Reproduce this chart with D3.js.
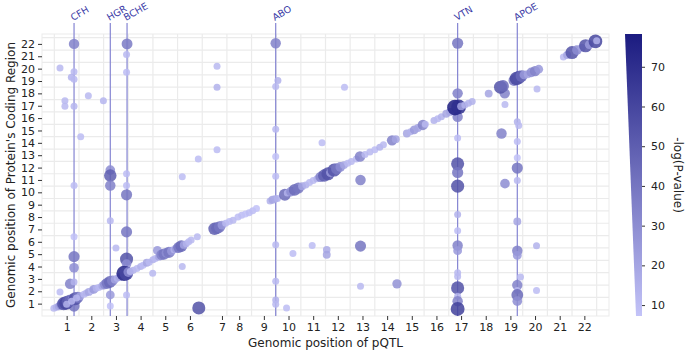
<!DOCTYPE html>
<html>
<head>
<meta charset="utf-8">
<script src="https://cdn.jsdelivr.net/npm/d3@7"></script>
<style>
  body { margin: 0; background: #fff; }
  text { font-family: "DejaVu Sans", sans-serif; }
</style>
</head>
<body>
<div class="chart"></div>
<script>
const width = 685;
const height = 356;

// chromosome tick labels (x axis has "7" drawn slightly right in the source)
const chromLabels = d3.range(1, 23);
const xTickPos = [1, 2, 3, 4, 5, 6, 7.3, 8, 9, 10, 11, 12, 13, 14, 15, 16, 17, 18, 19, 20, 21, 22];
const colorTicks = [10, 20, 30, 40, 50, 60, 70];

// hotspot genes and their pQTL position
const hotspotGenes = ['CFH', 'HGR', 'BCHE', 'ABO', 'VTN', 'APOE'];
const hotspotPos = [1.30, 2.77, 3.45, 9.48, 16.86, 19.28];

// [pQTL position, protein position, -log(P)]
const transPoints = [
  [1.30, 22.0, 35], [1.30, 19.75, 12], [1.19, 19.3, 14], [1.30, 19.15, 12], [0.73, 20.05, 12],
  [1.88, 17.8, 12], [0.93, 17.4, 12], [0.93, 16.95, 12], [1.30, 16.95, 13], [2.49, 17.4, 13],
  [1.57, 14.5, 10], [1.30, 10.55, 10], [1.30, 6.4, 8], [1.30, 4.8, 40], [1.30, 3.9, 30],
  [1.14, 2.6, 35], [1.30, 2.75, 15], [0.73, 1.95, 10], [1.30, 0.8, 40],
  [2.77, 11.8, 30], [2.77, 11.35, 50], [2.77, 10.55, 35], [2.77, 7.7, 12], [2.77, 1.7, 25], [2.77, 0.8, 8],
  [3.45, 22.0, 38], [3.43, 21.15, 12], [3.43, 19.7, 10], [3.43, 11.5, 10], [3.43, 10.55, 10],
  [3.43, 9.8, 40], [3.43, 6.8, 40], [3.43, 4.6, 55], [3.43, 4.2, 30], [3.43, 1.7, 10],
  [3.0, 5.5, 12], [4.49, 3.45, 12], [4.68, 5.3, 25], [5.69, 4.0, 12], [6.36, 0.65, 55],
  [7.1, 20.2, 12], [7.1, 18.5, 15], [7.1, 13.45, 10], [6.34, 12.7, 10], [5.69, 11.25, 10],
  [9.48, 22.05, 35], [9.57, 19.05, 15], [9.48, 18.55, 12], [9.48, 15.1, 12], [9.48, 12.9, 8],
  [9.48, 11.3, 10], [9.48, 5.77, 12], [9.48, 2.8, 12], [9.48, 1.3, 15], [9.48, 0.95, 12],
  [12.27, 18.5, 10], [11.36, 14.0, 10], [12.92, 11.0, 35], [10.18, 5.05, 10], [10.96, 5.7, 10],
  [11.55, 5.35, 18], [11.55, 4.95, 20], [12.92, 5.65, 40], [12.92, 2.4, 12], [14.4, 2.6, 28], [9.92, 0.65, 10],
  [16.86, 22.05, 40], [16.86, 18.0, 35], [16.86, 16.1, 35], [16.86, 14.4, 10], [16.86, 12.3, 55],
  [16.86, 11.6, 40], [16.86, 10.5, 55], [16.86, 8.2, 15], [16.86, 6.9, 10], [16.86, 5.7, 35],
  [16.86, 5.28, 25], [16.86, 3.5, 12], [16.86, 3.2, 12], [16.86, 2.27, 55], [16.86, 1.6, 15],
  [16.86, 1.2, 35], [16.86, 0.57, 62],
  [18.78, 17.1, 12], [18.64, 14.75, 35], [18.77, 18.0, 35], [18.78, 10.7, 30], [20.08, 18.35, 12],
  [19.28, 15.7, 15], [19.34, 15.4, 12], [19.28, 14.1, 10], [19.28, 12.8, 8], [19.28, 11.96, 40],
  [19.28, 10.96, 12], [19.28, 7.65, 20], [19.28, 5.28, 35], [19.28, 4.9, 25], [19.41, 3.15, 12],
  [19.28, 2.5, 35], [19.28, 2.07, 12], [19.28, 1.7, 45], [19.28, 1.2, 30], [20.06, 5.68, 15], [20.06, 2.07, 10]
];

const cisPoints = [
  [0.48, 0.62, 12], [0.58, 0.7, 15], [0.68, 0.78, 20], [0.78, 0.9, 30], [0.88, 1.0, 55],
  [0.98, 1.05, 60], [1.05, 1.15, 50], [1.15, 1.25, 45], [1.25, 1.35, 35], [1.35, 1.4, 55],
  [1.45, 1.5, 40], [1.55, 1.6, 20], [1.0, 0.95, 15], [1.2, 1.2, 12], [1.4, 1.45, 12],
  [1.7, 1.75, 12], [1.8, 1.85, 15], [1.9, 1.95, 20], [2.0, 2.05, 12], [2.1, 2.15, 25],
  [2.2, 2.25, 15], [2.3, 2.3, 12], [2.45, 2.45, 20], [2.55, 2.55, 30],
  [2.65, 2.65, 40], [2.75, 2.75, 45], [2.85, 2.85, 35], [2.95, 2.95, 20], [3.05, 3.05, 15],
  [3.15, 3.15, 20], [3.33, 3.45, 75], [3.42, 3.45, 60], [3.5, 3.55, 30], [3.58, 3.6, 12],
  [3.7, 3.7, 15], [3.85, 3.85, 12], [4.0, 4.0, 15], [4.1, 4.1, 10], [4.25, 4.3, 20], [4.35, 4.35, 12],
  [4.5, 4.55, 15], [4.6, 4.65, 12], [4.75, 4.8, 20], [4.85, 4.95, 35], [4.95, 5.0, 40],
  [5.05, 5.1, 30], [5.15, 5.15, 40], [5.25, 5.25, 25], [5.35, 5.35, 15], [5.45, 5.45, 25],
  [5.55, 5.55, 40], [5.65, 5.65, 45], [5.75, 5.75, 20], [5.85, 5.85, 15], [5.95, 6.0, 12],
  [6.05, 6.15, 12], [6.3, 6.4, 12],
  [7.0, 7.05, 50], [7.1, 7.1, 45], [7.2, 7.2, 40], [7.3, 7.35, 25], [7.45, 7.5, 12],
  [7.6, 7.65, 10], [7.75, 7.75, 12],
  [7.95, 8.0, 10], [8.1, 8.15, 10], [8.25, 8.25, 8], [8.4, 8.35, 10], [8.55, 8.5, 10], [8.7, 8.7, 8],
  [9.25, 9.3, 15], [9.35, 9.4, 20], [9.45, 9.45, 18], [9.55, 9.5, 15],
  [9.85, 9.8, 45], [9.95, 9.95, 15], [10.1, 10.05, 30], [10.25, 10.2, 45], [10.4, 10.35, 40],
  [10.55, 10.5, 20], [10.7, 10.6, 15], [10.85, 10.8, 12],
  [11.0, 10.95, 12], [11.15, 11.1, 15], [11.3, 11.25, 35], [11.45, 11.35, 50], [11.6, 11.5, 55],
  [11.7, 11.6, 25], [11.85, 11.8, 55], [11.95, 11.9, 40],
  [12.1, 12.05, 30], [12.25, 12.2, 20], [12.4, 12.35, 12], [12.55, 12.5, 12], [12.75, 12.7, 12], [12.9, 12.9, 35],
  [13.1, 13.05, 12], [13.3, 13.25, 12], [13.5, 13.45, 10], [13.7, 13.65, 15], [13.85, 13.85, 12],
  [14.2, 14.2, 35], [14.35, 14.3, 20],
  [14.8, 14.75, 20], [14.95, 14.9, 15], [15.1, 15.05, 25], [15.25, 15.2, 20], [15.45, 15.45, 35], [15.55, 15.5, 12],
  [15.9, 15.8, 15], [16.05, 15.95, 12], [16.2, 16.1, 15], [16.4, 16.35, 20], [16.55, 16.5, 20],
  [16.75, 16.85, 78], [16.9, 16.9, 70], [17.0, 16.95, 20], [17.15, 17.05, 15], [17.3, 17.2, 15], [17.45, 17.35, 15],
  [18.12, 17.98, 20], [18.6, 18.5, 55], [18.7, 18.6, 45],
  [19.15, 19.05, 40], [19.25, 19.2, 60], [19.35, 19.3, 55], [19.45, 19.4, 45], [19.55, 19.5, 25],
  [19.7, 19.55, 20], [19.85, 19.7, 30], [20.0, 19.8, 35], [20.15, 19.95, 25],
  [21.15, 20.95, 12], [21.3, 21.1, 20], [21.5, 21.3, 55], [21.7, 21.5, 30], [21.9, 21.7, 20],
  [22.05, 21.85, 55], [22.2, 21.95, 25], [22.45, 22.2, 60], [22.5, 22.25, 15]
];

const margin = {top: 34, left: 42, right: 609, bottom: 316};

const svg = d3
    .select('div.chart')
    .append('svg')
    .attr('width', width)
    .attr('height', height);

const x = d3.scaleLinear().domain([0, 23]).range([margin.left, margin.right]);
const y = d3.scaleLinear().domain([0, 22.8]).range([margin.bottom, margin.top]);
const color = d3.scaleLinear()
    .domain([7.25, 78.25])
    .range(['#c3c3f8', '#1b1b80'])
    .clamp(true);
const radius = d3.scaleSqrt().domain([0, 78]).range([0, 7.8]);

// grid
const grid = svg.append('g');
grid.selectAll('.vgrid')
    .data(d3.range(0.5, 23, 1))
    .enter()
    .append('line')
    .attr('x1', (d) => x(d)).attr('x2', (d) => x(d))
    .attr('y1', margin.top).attr('y2', margin.bottom)
    .attr('stroke', '#ebebeb').attr('stroke-width', 1.2);
grid.selectAll('.hgrid')
    .data(d3.range(0.5, 23, 1))
    .enter()
    .append('line')
    .attr('x1', margin.left).attr('x2', margin.right)
    .attr('y1', (d) => y(d)).attr('y2', (d) => y(d))
    .attr('stroke', '#ebebeb').attr('stroke-width', 1.2);
svg.append('rect')
    .attr('x', margin.left).attr('y', margin.top)
    .attr('width', margin.right - margin.left)
    .attr('height', margin.bottom - margin.top)
    .attr('fill', 'none').attr('stroke', '#ebebeb');

// hotspot lines and labels
const genes = svg.selectAll('.gene')
    .data(hotspotGenes)
    .enter()
    .append('g');
genes.append('line')
    .attr('x1', (d, i) => x(hotspotPos[i])).attr('x2', (d, i) => x(hotspotPos[i]))
    .attr('y1', 23).attr('y2', margin.bottom)
    .attr('stroke', '#8484d2').attr('stroke-width', 1.2);
genes.append('text')
    .attr('transform', (d, i) => 'translate(' + (x(hotspotPos[i]) - 1) + ',21) rotate(-30)')
    .attr('font-size', 9.5)
    .attr('fill', '#3a3aa6')
    .text((d) => d);

// points
svg.append('g')
    .selectAll('circle')
    .data(transPoints.concat(cisPoints))
    .enter()
    .append('circle')
    .attr('cx', (d) => x(d[0]))
    .attr('cy', (d) => y(d[1]))
    .attr('r', (d) => Math.max(3.5, radius(d[2])))
    .attr('fill', (d) => color(d[2]))
    .attr('fill-opacity', 0.85);

// axes
const xAxis = svg.append('g')
    .attr('transform', 'translate(0,' + margin.bottom + ')')
    .call(d3.axisBottom(x).tickValues(xTickPos)
        .tickFormat((d, i) => chromLabels[i]).tickSize(4).tickPadding(3));
const yAxis = svg.append('g')
    .attr('transform', 'translate(' + margin.left + ',0)')
    .call(d3.axisLeft(y).tickValues(chromLabels).tickSize(4).tickPadding(3));
[xAxis, yAxis].forEach(function(a) {
  a.select('.domain').remove();
  a.selectAll('line').attr('stroke', '#333');
  a.selectAll('text').attr('font-size', 11).attr('fill', '#222')
      .style('font-family', '"DejaVu Sans", sans-serif');
});

svg.append('text')
    .attr('x', x(11.5)).attr('y', 347)
    .attr('text-anchor', 'middle')
    .attr('font-size', 12).attr('fill', '#222')
    .text('Genomic position of pQTL');
svg.append('text')
    .attr('transform', 'translate(15,' + ((margin.top + margin.bottom) / 2) + ') rotate(-90)')
    .attr('text-anchor', 'middle')
    .attr('font-size', 12).attr('fill', '#222')
    .text('Genomic position of Protein\'s Coding Region');

// colour bar
const cb = d3.scaleLinear().domain([7.25, 78.25]).range([margin.bottom, margin.top]);
const defs = svg.append('defs');
const grad = defs.append('linearGradient')
    .attr('id', 'cbar')
    .attr('x1', 0).attr('y1', 1).attr('x2', 0).attr('y2', 0);
grad.append('stop').attr('offset', 0).attr('stop-color', color(7.25));
grad.append('stop').attr('offset', 1).attr('stop-color', color(78.25));
svg.append('path')
    .attr('d', 'M625,' + margin.top + 'L642,' + margin.top + 'L642,' + margin.bottom + 'L636,' + margin.bottom + 'Z')
    .attr('fill', 'url(#cbar)');
const cAxis = svg.append('g')
    .attr('transform', 'translate(642,0)')
    .call(d3.axisRight(cb).tickValues(colorTicks).tickSize(3).tickPadding(6));
cAxis.select('.domain').remove();
cAxis.selectAll('line').attr('stroke', '#333');
cAxis.selectAll('text').attr('font-size', 11).attr('fill', '#222')
    .style('font-family', '"DejaVu Sans", sans-serif');
svg.append('text')
    .attr('transform', 'translate(674,' + ((margin.top + margin.bottom) / 2) + ') rotate(90)')
    .attr('text-anchor', 'middle')
    .attr('font-size', 12).attr('fill', '#222')
    .text('-log(P-value)');
</script>
</body>
</html>
